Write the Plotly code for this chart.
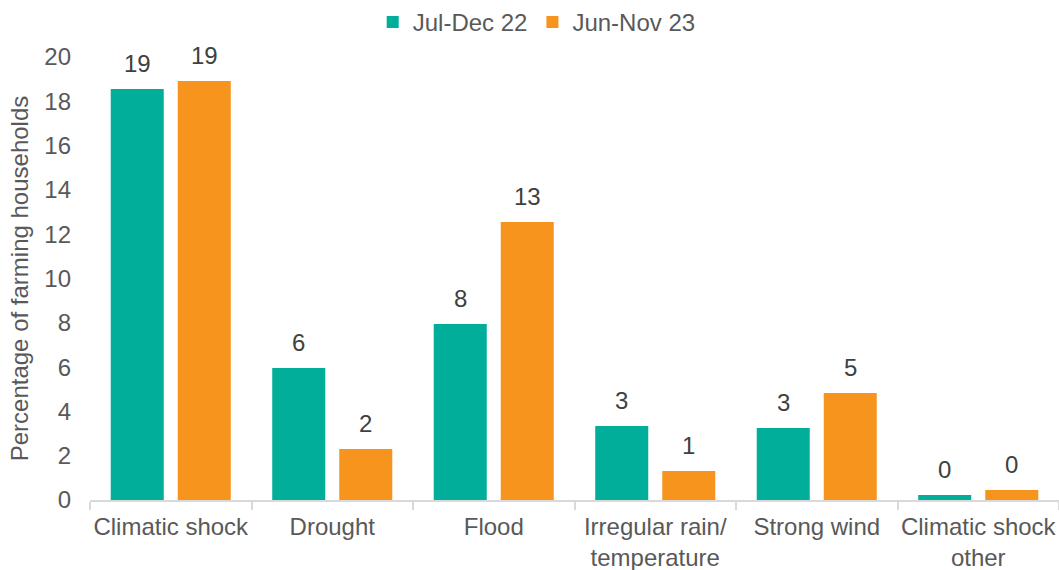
import plotly.graph_objects as go

categories = ["Climatic shock", "Drought", "Flood", "Irregular rain/<br>temperature",
              "Strong wind", "Climatic shock<br>other"]
series_names = ["Jul-Dec 22", "Jun-Nov 23"]
jul_dec_22 = [18.55, 5.96, 7.95, 3.34, 3.25, 0.23]
jun_nov_23 = [18.92, 2.30, 12.55, 1.31, 4.83, 0.45]
y_ticks = [0, 2, 4, 6, 8, 10, 12, 14, 16, 18, 20]

colors = ["#00AE99", "#F7941D"]
FONT = "Liberation Sans, Arial, sans-serif"
FS = 24

fig = go.Figure()
for name, vals, col in zip(series_names, [jul_dec_22, jun_nov_23], colors):
    fig.add_trace(go.Bar(x=categories, y=vals, name=name, marker_color=col,
                         marker_line_width=0))

annotations = []
for vals, shift in [(jul_dec_22, -33.5), (jun_nov_23, 33.5)]:
    for c, v in zip(categories, vals):
        annotations.append(dict(x=c, y=v, xref="x", yref="y", text=str(round(v)),
                                showarrow=False, xshift=shift, yanchor="bottom", yshift=10,
                                font=dict(family=FONT, size=FS, color="#404040")))

fig.update_layout(
    width=1059, height=570,
    margin=dict(l=90, r=0, t=57, b=70),
    plot_bgcolor="white", paper_bgcolor="white",
    barmode="group", bargap=0.17, bargroupgap=0.209,
    font=dict(family=FONT, size=FS, color="#595959"),
    legend=dict(orientation="h", x=0.461, xanchor="center", y=1.079, yanchor="middle",
                font=dict(size=FS, color="#595959"), itemwidth=30, tracegroupgap=0),
    annotations=annotations,
    showlegend=True,
)
fig.update_xaxes(showline=True, linecolor="#D9D9D9", linewidth=1.5, ticks="outside",
                 tickson="boundaries", ticklen=8, tickcolor="#D9D9D9", tickwidth=1.5,
                 tickangle=0, ticklabelstandoff=4,
                 tickfont=dict(size=FS, color="#595959"), showgrid=False, automargin=False)
fig.update_yaxes(range=[0, 20], tickvals=y_ticks, showgrid=False, showline=False,
                 zeroline=False, ticklabelstandoff=18, automargin=False,
                 tickfont=dict(size=FS, color="#595959"),
                 title=dict(text="Percentage of farming households",
                            font=dict(size=FS, color="#595959"), standoff=8))

fig.write_html("out.html", config={"displayModeBar": False},
               post_script="document.body.style.margin='0';document.body.style.overflow='hidden';")
